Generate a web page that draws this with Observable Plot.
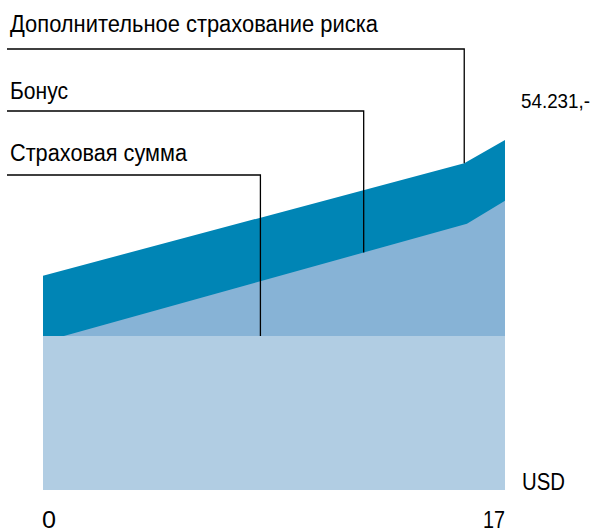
<!DOCTYPE html>
<html>
<head>
<meta charset="utf-8">
<script src="https://cdn.jsdelivr.net/npm/d3@7"></script>
<script src="https://cdn.jsdelivr.net/npm/@observablehq/plot@0.6"></script>
<style>
  html, body { margin: 0; padding: 0; background: #fff; }
  #chart svg { display: block; }
</style>
</head>
<body>
<div id="chart"></div>
<script>
// ---- data (USD, by year 0..17) ----
const sumInsuredX = [0, 17];
const sumInsured = [23860, 23860];

const bonusX = [0, 0.77, 15.6, 17];
const bonusTotal = [23860, 23860, 41260, 44830];

const riskX = [0, 15.5, 17];
const riskTotal = [33210, 50620, 54231];

const xTicks = [0, 17];
const finalValueLabel = "54.231,-";
const unitLabel = "USD";

const seriesNames = ["Дополнительное страхование риска", "Бонус", "Страховая сумма"];
// x positions where leader lines touch each layer
const pointerX = [15.5, 11.8, 8.0];

const colors = { sum: "#b1cde3", bonus: "#87b3d6", risk: "#0085b5" };
const FONT = "'Liberation Sans Narrow', 'Arial Narrow', 'Liberation Sans', Arial, sans-serif";
const FS = 23;

const toRows = (xs, ys) => xs.map((x, i) => ({ x, y: ys[i] }));
const sumRows = toRows(sumInsuredX, sumInsured);
const bonusRows = toRows(bonusX, bonusTotal);
const riskRows = toRows(riskX, riskTotal);

const interp = (xs, ys, x) => {
  for (let i = 0; i < xs.length - 1; i++) {
    if (x >= xs[i] && x <= xs[i + 1]) {
      const t = (x - xs[i]) / (xs[i + 1] - xs[i]);
      return ys[i] + t * (ys[i + 1] - ys[i]);
    }
  }
  return ys[ys.length - 1];
};

const plot = Plot.plot({
  width: 601,
  height: 532,
  marginLeft: 43,
  marginRight: 96,
  marginTop: 140,
  marginBottom: 42,
  style: { fontFamily: FONT, fontSize: FS + "px", color: "#000", background: "#fff" },
  x: { domain: [0, 17], axis: null },
  y: { domain: [0, 54231], axis: null },
  marks: [
    Plot.areaY(riskRows, { x: "x", y1: 0, y2: "y", fill: colors.risk }),
    Plot.areaY(bonusRows, { x: "x", y1: 0, y2: "y", fill: colors.bonus }),
    Plot.areaY(sumRows, { x: "x", y1: 0, y2: "y", fill: colors.sum })
  ]
});

document.getElementById("chart").appendChild(plot);

const sx = plot.scale("x"), sy = plot.scale("y");
const svg = d3.select(plot);
const g = svg.append("g");

function label(text, x, y, anchor, width, size = FS) {
  const t = g.append("text")
    .attr("x", x)
    .attr("y", y)
    .attr("text-anchor", anchor)
    .attr("font-family", FONT)
    .attr("font-size", size)
    .attr("fill", "#000")
    .text(text);
  if (width) t.attr("textLength", width).attr("lengthAdjust", "spacingAndGlyphs");
  return t;
}

// ---- leader lines + series labels, positioned via Plot's scales ----
const rowLineY = [49, 111, 175];
const rowTextY = [32, 99, 161];
const rowTextW = [368, 58, 177];
const layerTops = [
  interp(riskX, riskTotal, pointerX[0]),
  interp(bonusX, bonusTotal, pointerX[1]),
  interp(sumInsuredX, sumInsured, pointerX[2])
];
seriesNames.forEach((name, i) => {
  const px = sx.apply(pointerX[i]);
  const py = sy.apply(layerTops[i]);
  g.append("path")
    .attr("d", `M7,${rowLineY[i]}H${px}V${py}`)
    .attr("fill", "none")
    .attr("stroke", "#000")
    .attr("stroke-width", 1.3);
  label(name, 10, rowTextY[i], "start", rowTextW[i]);
});

// ---- x tick labels, unit and end value ----
const bottomY = sy.apply(0);
label(String(xTicks[0]), sx.apply(xTicks[0]) - 1, bottomY + 38, "start", 14);
label(String(xTicks[1]), sx.apply(xTicks[1]), bottomY + 38, "end", 22);
label(unitLabel, sx.apply(17) + 17, bottomY, "start", 43);
label(finalValueLabel, sx.apply(17) + 16, sy.apply(riskTotal[riskTotal.length - 1]) - 32, "start", 69, 21);
</script>
</body>
</html>
